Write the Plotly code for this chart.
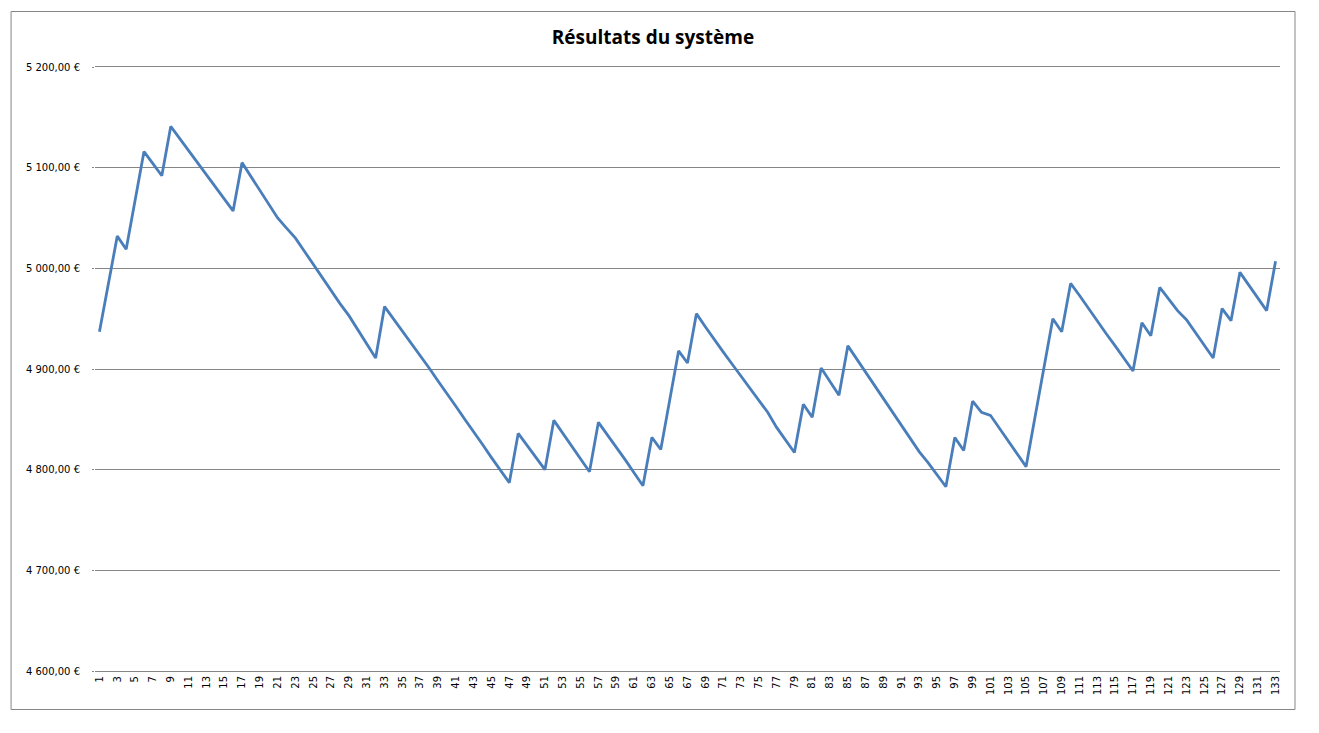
import plotly.graph_objects as go

periods = list(range(1, 134))
resultats = [
    4937, 4985, 5032, 5019, 5068, 5116, 5104, 5092, 5141, 5129,
    5117, 5105, 5093, 5081, 5069, 5057, 5105, 5091, 5077, 5064,
    5050, 5040, 5030, 5017, 5004, 4990, 4977, 4965, 4953, 4939,
    4925, 4911, 4962, 4950, 4937, 4925, 4914, 4901, 4888, 4876,
    4863, 4850, 4838, 4825, 4812, 4800, 4787, 4836, 4824, 4812,
    4800, 4849, 4836, 4824, 4811, 4798, 4847, 4835, 4823, 4810,
    4797, 4784, 4832, 4820, 4869, 4918, 4906, 4955, 4942, 4929,
    4917, 4905, 4893, 4881, 4869, 4857, 4842, 4829, 4817, 4865,
    4852, 4901, 4888, 4874, 4923, 4910, 4897, 4884, 4870, 4857,
    4844, 4831, 4818, 4807, 4795, 4783, 4832, 4819, 4868, 4857,
    4854, 4841, 4828, 4815, 4803, 4852, 4901, 4950, 4937, 4985,
    4973, 4960, 4948, 4935, 4923, 4910, 4898, 4946, 4933, 4981,
    4969, 4958, 4949, 4936, 4924, 4911, 4960, 4948, 4996, 4983,
    4971, 4958, 5007,
]
x_tick_vals = list(range(1, 134, 2))
x_tick_text = [str(v) for v in x_tick_vals]
y_tick_vals = [4600, 4700, 4800, 4900, 5000, 5100, 5200]
y_tick_text = ["4 600,00 €", "4 700,00 €", "4 800,00 €", "4 900,00 €",
               "5 000,00 €", "5 100,00 €", "5 200,00 €"]

grid = "#868686"
off = 8  # page body margin

fig = go.Figure()
fig.add_trace(go.Scatter(
    x=periods, y=resultats, mode="lines",
    line=dict(color="#4A7EBB", width=2.8),
    hoverinfo="skip", showlegend=False,
))

fig.update_layout(
    width=1319, height=733,
    paper_bgcolor="white", plot_bgcolor="white",
    margin=dict(l=94.5 - off, r=1319 - 1280.5 + off, t=67 - off, b=733 - 671 + off),
    title=dict(
        text="<b>Résultats du système</b>",
        x=(653 - off) / 1319, xref="container", xanchor="center",
        y=1 - (37 - off) / 733, yref="container", yanchor="middle",
        font=dict(family="Open Sans, Liberation Sans, sans-serif", size=19, color="black"),
    ),
    font=dict(family="DejaVu Sans, Verdana, sans-serif", size=10, color="black"),
    shapes=[dict(
        type="rect", xref="paper", yref="paper",
        x0=(10.5 - 94.5) / 1186, x1=(1295.5 - 94.5) / 1186,
        y0=(671 - 709.5) / 604, y1=(671 - 11.5) / 604,
        line=dict(color=grid, width=1), fillcolor="rgba(0,0,0,0)", layer="below",
    )],
)

fig.update_xaxes(
    range=[0.5, 133.5],
    tickmode="array", tickvals=x_tick_vals, ticktext=x_tick_text,
    tickangle=-90, showgrid=False, zeroline=False,
    showline=True, linecolor=grid, linewidth=1, mirror=True,
    ticks="", tickfont=dict(size=10, family="DejaVu Sans, Verdana, sans-serif"),
)
fig.update_yaxes(
    range=[4600, 5200],
    tickmode="array", tickvals=y_tick_vals, ticktext=y_tick_text,
    showgrid=True, gridcolor=grid, gridwidth=1, zeroline=False,
    showline=False, ticks="outside", ticklen=2, tickcolor=grid,
    ticklabelstandoff=10,
    tickfont=dict(size=10, family="DejaVu Sans, Verdana, sans-serif"),
)

fig.write_html("out.html")
